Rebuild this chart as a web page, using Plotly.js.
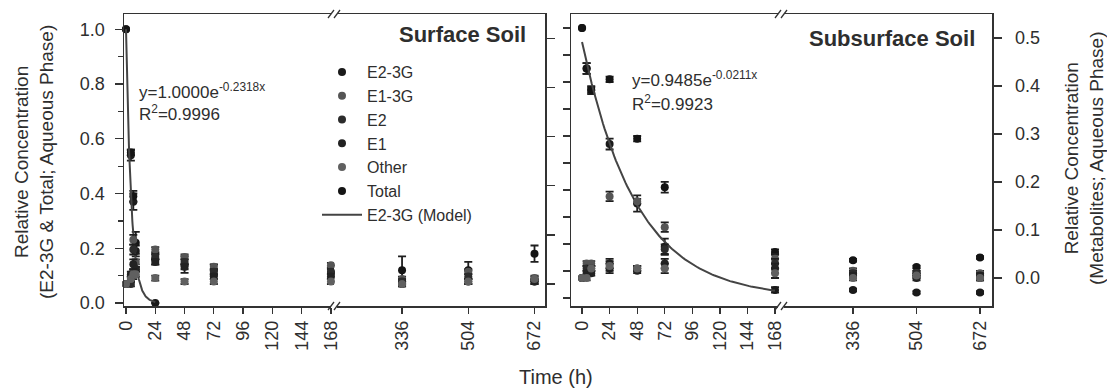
<!DOCTYPE html>
<html>
<head>
<meta charset="utf-8">
<script src="https://cdn.plot.ly/plotly-3.0.1.min.js"></script>
<style>html,body{margin:0;padding:0;background:#fff}#chart{width:1107px;height:390px}</style>
</head>
<body>
<div id="chart"></div>
<script>
// ---------- Data ----------
const seriesNames = ["E2-3G", "E1-3G", "E2", "E1", "Other", "Total"];
const xTicksLow = [0, 24, 48, 72, 96, 120, 144, 168];
const xTicksHigh = [336, 504, 672];

// Surface soil sampling times (h)
const tSurf = [0, 4, 6, 8, 24, 48, 72, 168, 336, 504, 672];
// left axis (E2-3G & Total)
const surfE23G = [1.00, 0.54, 0.37, 0.19, 0.00, null, null, null, null, null, null];
const surfE23GErr = [0, 0.02, 0.03, 0.02, 0, null, null, null, null, null, null];
const surfTotal = [1.00, 0.55, 0.39, 0.22, 0.16, 0.14, 0.12, 0.11, 0.12, 0.12, 0.18];
const surfTotalErr = [0, 0.01, 0.02, 0.04, 0.02, 0.03, 0.02, 0.02, 0.05, 0.03, 0.03];
// right axis (metabolites)
const surfE13G = [0.00, 0.01, 0.09, 0.045, 0.07, 0.055, 0.035, 0.038, 0.01, 0.025, 0.012];
const surfE2 = [0.00, 0.00, 0.07, 0.03, 0.055, 0.045, 0.025, 0.025, 0.005, 0.015, 0.005];
const surfE1 = [0.00, 0.02, 0.04, 0.03, 0.045, 0.035, 0.015, 0.015, 0.00, 0.005, 0.005];
const surfOther = [0.00, 0.01, 0.02, 0.02, 0.012, 0.005, 0.005, 0.005, 0.00, 0.005, 0.01];
const surfMetErr = [0, 0.005, 0.01, 0.005, 0.005, 0.005, 0.005, 0.005, 0.005, 0.005, 0.005];

// Subsurface soil sampling times (h)
const tSub = [0, 4, 8, 24, 48, 72, 168, 336, 504, 672];
const subE23G = [1.00, 0.85, 0.77, 0.57, 0.35, 0.19, 0.03, 0.03, 0.02, 0.02];
const subE23GErr = [0, 0.02, 0.015, 0.02, 0.03, 0.03, 0.01, 0.005, 0.005, 0.005];
const subTotal = [1.00, 0.85, 0.77, 0.81, 0.59, 0.41, 0.17, 0.14, 0.115, 0.15];
const subTotalErr = [0, 0.02, 0.01, 0.01, 0.01, 0.02, 0.01, 0.005, 0.005, 0.005];
const subE13G = [0.00, 0.03, 0.03, 0.17, 0.16, 0.106, 0.04, 0.015, 0.01, 0.01];
const subE2 = [0.00, 0.02, 0.02, 0.03, 0.02, 0.06, 0.03, 0.01, 0.01, 0.00];
const subE1 = [0.00, 0.01, 0.01, 0.02, 0.015, 0.03, 0.02, 0.005, 0.00, 0.005];
const subOther = [0.00, 0.00, 0.02, 0.025, 0.02, 0.02, 0.01, 0.00, 0.005, 0.00];
const subMetErr = [0, 0.005, 0.005, 0.01, 0.005, 0.01, 0.01, 0.005, 0.005, 0.005];

// First-order model parameters (as printed on the chart)
const surfModel = {a: 1.0000, k: 0.2318, tEnd: 24, r2: "0.9996"};
const subModel = {a: 0.9485, k: 0.0211, tEnd: 168, r2: "0.9923"};

// ---------- Styling ----------
const FONT = "Liberation Sans, Arial, Helvetica, sans-serif";
const TXT = "#2e2e2e";
const colors = {"E2-3G": "#1a1a1a", "E1-3G": "#555555", "E2": "#2c2c2c", "E1": "#222222", "Other": "#606060", "Total": "#141414"};

const traces = [];
function addSeries(name, t, v, e, xLow, xHigh, yax, showLeg) {
  [[xLow, x => x <= 168], [xHigh, x => x > 168]].forEach(([xa, cond], i) => {
    const xs = [], ys = [], es = [];
    t.forEach((tt, j) => { if (cond(tt) && v[j] !== null) { xs.push(tt); ys.push(v[j]); es.push(e ? (e[j] || 0) : 0); } });
    if (!xs.length) return;
    traces.push({
      type: "scatter", mode: "markers", name: name, legendgroup: name,
      showlegend: showLeg && i === 0,
      x: xs, y: ys, xaxis: xa, yaxis: yax, cliponaxis: false,
      marker: {size: 8, color: colors[name]},
      error_y: {type: "data", array: es, visible: true, color: "#1e1e1e", thickness: 1.8, width: 4}
    });
  });
}

// Surface soil (left panel)
addSeries("E2-3G", tSurf, surfE23G, surfE23GErr, "x", "x2", "y", true);
addSeries("E1-3G", tSurf, surfE13G, surfMetErr, "x", "x2", "y2", true);
addSeries("E2", tSurf, surfE2, surfMetErr, "x", "x2", "y2", true);
addSeries("E1", tSurf, surfE1, surfMetErr, "x", "x2", "y2", true);
addSeries("Other", tSurf, surfOther, surfMetErr, "x", "x2", "y2", true);
addSeries("Total", tSurf, surfTotal, surfTotalErr, "x", "x2", "y", true);
// Subsurface soil (right panel)
addSeries("E2-3G", tSub, subE23G, subE23GErr, "x3", "x4", "y3", false);
addSeries("E1-3G", tSub, subE13G, subMetErr, "x3", "x4", "y4", false);
addSeries("E2", tSub, subE2, subMetErr, "x3", "x4", "y4", false);
addSeries("E1", tSub, subE1, subMetErr, "x3", "x4", "y4", false);
addSeries("Other", tSub, subOther, subMetErr, "x3", "x4", "y4", false);
addSeries("Total", tSub, subTotal, subTotalErr, "x3", "x4", "y3", false);

function modelTrace(m, xa, ya, showLeg) {
  const xs = [], ys = [];
  const n = 120;
  for (let i = 0; i <= n; i++) { const t = m.tEnd * i / n; xs.push(t); ys.push(m.a * Math.exp(-m.k * t)); }
  return {type: "scatter", mode: "lines", name: "E2-3G (Model)", showlegend: showLeg,
    x: xs, y: ys, xaxis: xa, yaxis: ya, line: {color: "#444", width: 2}, cliponaxis: false};
}
traces.push(modelTrace(surfModel, "x", "y", true));
traces.push(modelTrace(subModel, "x3", "y3", false));

// ---------- Layout ----------
const tickfont = {family: FONT, size: 18, color: TXT};
const common = {showgrid: false, zeroline: false, showline: true, linecolor: "#333", linewidth: 1.5,
  ticks: "outside", tickcolor: "#333", tickwidth: 1.3, tickfont: tickfont};
const xCommon = Object.assign({}, common, {ticklen: 6, tickangle: -90, mirror: true, tickmode: "array"});

// plot-area pixel geometry helpers for decoration placement
const PL = 124, PR = 992, PT = 14, PB = 306;
const px = v => (v - PL) / (PR - PL);
const py = v => (PB - v) / (PB - PT);

const layout = {
  width: 1107, height: 390,
  margin: {l: PL, r: 1107 - PR, t: PT, b: 390 - PB, pad: 0},
  paper_bgcolor: "#fff", plot_bgcolor: "rgba(0,0,0,0)",
  font: {family: FONT, color: TXT},
  showlegend: true,
  legend: {x: px(317), y: py(55), xanchor: "left", yanchor: "top", bgcolor: "rgba(0,0,0,0)",
    font: {family: FONT, size: 16, color: TXT}, itemwidth: 40, tracegroupgap: 0, borderwidth: 0},
  xaxis: Object.assign({}, xCommon, {domain: [0, px(334)], range: [-1.64, 170.5], anchor: "y", tickvals: xTicksLow}),
  xaxis2: Object.assign({}, xCommon, {domain: [px(334), px(545)], range: [163.4, 698.6], anchor: "y", tickvals: xTicksHigh}),
  xaxis3: Object.assign({}, xCommon, {domain: [px(571), px(781)], range: [-9.6, 173.2], anchor: "y3", tickvals: xTicksLow}),
  xaxis4: Object.assign({}, xCommon, {domain: [px(781), 1], range: [145.5, 703.7], anchor: "y3", tickvals: xTicksHigh}),
  yaxis: Object.assign({}, common, {domain: [0, 1], anchor: "x", range: [-0.011, 1.056], tickmode: "linear", tick0: 0, dtick: 0.2,
    tickformat: ".1f", ticklen: 8, ticklabelstandoff: 6,
    minor: {tickmode: "linear", tick0: 0, dtick: 0.1, ticks: "outside", ticklen: 5, tickcolor: "#333", tickwidth: 1.3}}),
  yaxis2: Object.assign({}, common, {overlaying: "y", anchor: "x2", side: "right", range: [-0.0448, 0.5495],
    tickmode: "linear", tick0: 0, dtick: 0.1, ticklen: 8, showticklabels: false}),
  yaxis3: Object.assign({}, common, {domain: [0, 1], anchor: "x3", range: [-0.0296, 1.0519],
    tickmode: "linear", tick0: 0, dtick: 0.1, ticklen: 7, showticklabels: false}),
  yaxis4: Object.assign({}, common, {overlaying: "y3", anchor: "x4", side: "right", range: [-0.0583, 0.55],
    tickmode: "linear", tick0: 0, dtick: 0.1, ticklen: 8, tickformat: ".1f", ticklabelstandoff: 10}),
  annotations: [
    {xref: "paper", yref: "paper", x: px(528), y: py(35), xanchor: "right", yanchor: "middle", showarrow: false,
      text: "<b>Surface Soil</b>", font: {family: FONT, size: 22, color: TXT}},
    {xref: "paper", yref: "paper", x: px(977), y: py(38), xanchor: "right", yanchor: "middle", showarrow: false,
      text: "<b>Subsurface Soil</b>", font: {family: FONT, size: 22, color: TXT}},
    {xref: "paper", yref: "paper", x: px(137), y: py(91), xanchor: "left", yanchor: "middle", showarrow: false,
      text: "y=" + surfModel.a.toFixed(4) + "e<sup>-" + surfModel.k.toFixed(4) + "x</sup>", font: {family: FONT, size: 17, color: TXT}},
    {xref: "paper", yref: "paper", x: px(137), y: py(113), xanchor: "left", yanchor: "middle", showarrow: false,
      text: "R<sup>2</sup>=" + surfModel.r2, font: {family: FONT, size: 17, color: TXT}},
    {xref: "paper", yref: "paper", x: px(630), y: py(79), xanchor: "left", yanchor: "middle", showarrow: false,
      text: "y=" + subModel.a.toFixed(4) + "e<sup>-" + subModel.k.toFixed(4) + "x</sup>", font: {family: FONT, size: 17, color: TXT}},
    {xref: "paper", yref: "paper", x: px(630), y: py(103), xanchor: "left", yanchor: "middle", showarrow: false,
      text: "R<sup>2</sup>=" + subModel.r2, font: {family: FONT, size: 17, color: TXT}},
    {xref: "paper", yref: "paper", x: px(34), y: py(162), xanchor: "center", yanchor: "middle", showarrow: false, textangle: -90,
      text: "Relative Concentration<br>(E2-3G &amp; Total; Aqueous Phase)", font: {family: FONT, size: 19, color: TXT}},
    {xref: "paper", yref: "paper", x: px(1084), y: py(158), xanchor: "center", yanchor: "middle", showarrow: false, textangle: -90,
      text: "Relative Concentration<br>(Metabolites; Aqueous Phase)", font: {family: FONT, size: 19, color: TXT}},
    {xref: "paper", yref: "paper", x: px(556), y: py(377), xanchor: "center", yanchor: "middle", showarrow: false,
      text: "Time (h)", font: {family: FONT, size: 20, color: TXT}}
  ],
  shapes: []
};

// axis-break marks ("//") on top and bottom frame lines
[334, 781].forEach(bx => {
  [PT, PB].forEach(by => {
    layout.shapes.push({type: "rect", xref: "paper", yref: "paper", x0: px(bx - 3), x1: px(bx + 3), y0: py(by + 2), y1: py(by - 2),
      fillcolor: "#fff", line: {width: 0}, layer: "above"});
    [-3, 3].forEach(d => layout.shapes.push({type: "line", xref: "paper", yref: "paper",
      x0: px(bx + d - 3), y0: py(by + 4), x1: px(bx + d + 3), y1: py(by - 4), line: {color: "#333", width: 1.3}, layer: "above"}));
  });
});

Plotly.newPlot("chart", traces, layout, {displayModeBar: false, staticPlot: true});
</script>
</body>
</html>
